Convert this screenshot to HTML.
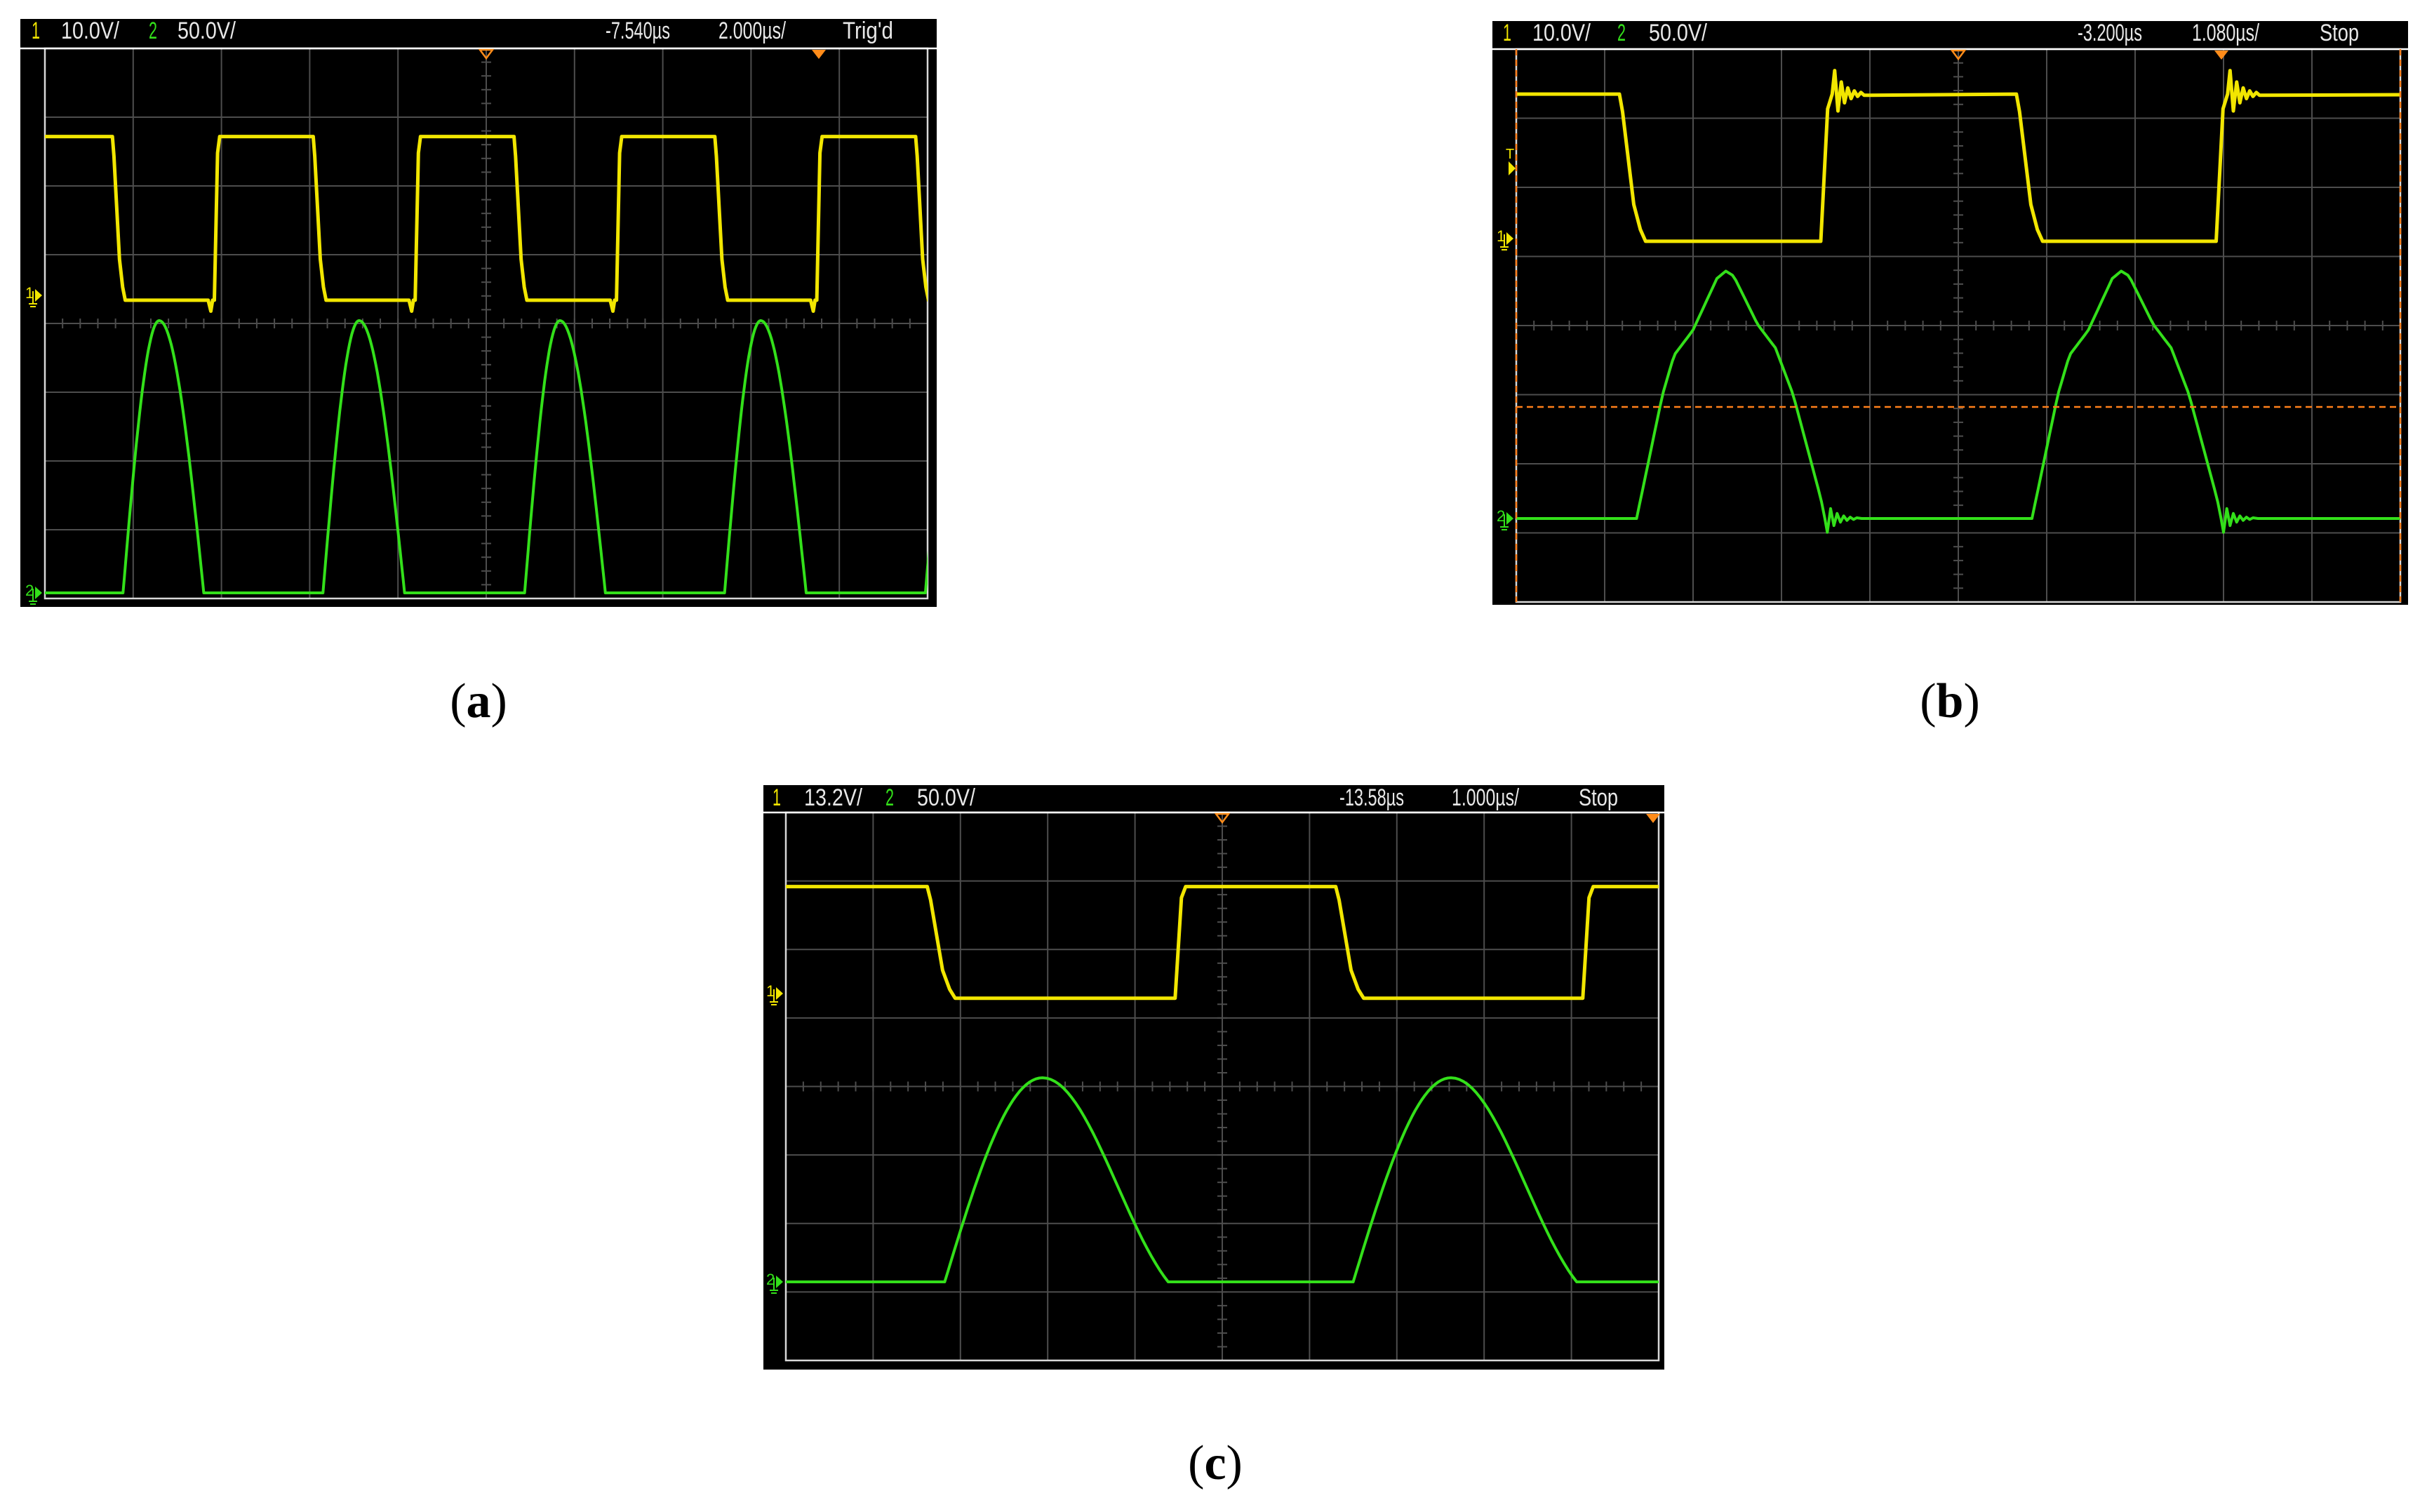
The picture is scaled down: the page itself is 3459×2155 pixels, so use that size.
<!DOCTYPE html>
<html><head><meta charset="utf-8"><style>
html,body{margin:0;padding:0;background:#fff;}
svg{display:block;}
.hdr{font-family:"Liberation Sans",sans-serif;font-size:34px;fill:#e8e8e8;}
.lbl{font-family:"Liberation Serif",serif;font-size:70px;fill:#000;}
</style></head><body>
<svg id="fig" width="3459" height="2155" viewBox="0 0 3459 2155" xmlns="http://www.w3.org/2000/svg">
<rect width="3459" height="2155" fill="#fff"/>
</svg>
<script>
// ---------- Panel (a) data (time µs, volts) ----------
const aFallTimes=[1.53,6.08,10.63,15.18,19.73];
const aRiseTimes=[3.84,8.39,12.95,17.49];
const aLevels=[23.1,-0.7];
const aPulseStart=[1.77,6.30,10.87,15.40,19.95];
const aPulsePeak=[2.59,7.12,11.67,16.22,20.77];
const aPulseEnd=[3.60,8.15,12.70,17.25,21.8];
const aPeakV=[198,198,198,198,198];
// ---------- Panel (b) data ----------
const bFallTimes=[1.26,6.11];
const bRiseTimes=[3.72,8.55];
const bLevels=[20.9,-0.4];
const bPulseStart=[1.47,6.30];
const bPulsePeak=[2.56,7.39];
const bPulseEnd=[3.77,8.61];
const bPeakV=[179,179];
// ---------- Panel (c) data ----------
const cFallTimes=[1.62,6.30];
const cRiseTimes=[4.46,9.13];
const cLevels=[20.6,-0.9];
const cPulseStart=[1.82,6.50];
const cPulsePeak=[2.94,7.62];
const cPulseEnd=[4.38,9.06];
const cPeakV=[149,149];

const NS='http://www.w3.org/2000/svg';
const fig=document.getElementById('fig');
function mk(tag,attrs,parent){const e=document.createElementNS(NS,tag);for(const k in attrs)e.setAttribute(k,attrs[k]);(parent||fig).appendChild(e);return e;}
function interp(prof,u){for(let i=1;i<prof.length;i++){if(u<=prof[i][0]){const a=prof[i-1],b=prof[i];const f=(u-a[0])/(b[0]-a[0]||1);return a[1]+(b[1]-a[1])*f;}}return prof[prof.length-1][1];}

function panel(c){
  const g=mk('g',{});
  
  
  const bg=mk('rect',{x:c.box[0],y:c.box[1],width:c.box[2]-c.box[0],height:c.box[3]-c.box[1],fill:'#000'},g);
  
  
  const [gx0,gy0,gx1,gy1]=c.grid;
  const dx=(gx1-gx0)/10, dy=(gy1-gy0)/8;
  const X=t=>gx0+t/c.tdiv*dx;
  const Y1=v=>c.gnd1-v/c.vdiv1*dy;
  const Y2=v=>c.gnd2-v/c.vdiv2*dy;
  const grid=mk('g',{stroke:'#4d4d4d','stroke-width':2},g);
  
  
  for(let i=1;i<10;i++)mk('line',{x1:gx0+i*dx,y1:gy0,x2:gx0+i*dx,y2:gy1},grid);
  for(let j=1;j<8;j++)mk('line',{x1:gx0,y1:gy0+j*dy,x2:gx1,y2:gy0+j*dy},grid);
  const cx=gx0+5*dx, cy=gy0+4*dy;
  for(let i=1;i<50;i++){const x=gx0+i*dx/5;mk('line',{x1:x,y1:cy-7,x2:x,y2:cy+7},grid);}
  for(let j=1;j<40;j++){const y=gy0+j*dy/5;mk('line',{x1:cx-7,y1:y,x2:cx+7,y2:y},grid);}
  const frame=mk('rect',{x:gx0,y:gy0,width:gx1-gx0,height:gy1-gy0,fill:'none',stroke:'#d8d8d8','stroke-width':2.5},g);
  
  
  const hl=mk('line',{x1:c.box[0],y1:gy0,x2:c.box[2],y2:gy0,stroke:'#fff','stroke-width':2.5},g);
  
  
  c.hdr.forEach(h=>{
    const t=mk('text',{x:h[0],y:c.hy+12,class:'hdr',textLength:h[2],lengthAdjust:'spacingAndGlyphs'},g);
    t.textContent=h[1];
    if(h[3])t.setAttribute('style','fill:'+h[3]);
    
    
  });
  const tr1=mk('path',{d:`M${cx-9} ${gy0+2} L${cx+9} ${gy0+2} L${cx} ${gy0+14} Z`,fill:'none',stroke:'#ff8c1a','stroke-width':2.5},g);
  
  
  const tr2=mk('path',{d:`M${c.trig2-10} ${gy0+2} L${c.trig2+10} ${gy0+2} L${c.trig2} ${gy0+15} Z`,fill:'#ff8c1a'},g);
  
  
  const cp=mk('clipPath',{id:'clip-'+c.id},g);
  mk('rect',{x:gx0,y:gy0,width:gx1-gx0,height:gy1-gy0},cp);
  const tEnd=10*c.tdiv+2;
  const [H,L]=c.levels;
  const ev=[];c.falls.forEach(t=>ev.push([t,'f']));c.rises.forEach(t=>ev.push([t,'r']));ev.sort((a,b)=>a[0]-b[0]);
  let lvl=ev.length&&ev[0][1]==='f'?H:L;
  const p1=[[0,lvl]];
  ev.forEach(e=>{
    const t0=e[0];
    if(e[1]==='f'){
      p1.push([t0,H]);
      c.fallProf.forEach(q=>p1.push([t0+q[0]*c.fallDur,L+(H-L)*q[1]]));
      lvl=L;
    }else{
      if(c.notch){p1.push([t0-0.14,L],[t0-0.08,L-1.6],[t0-0.04,L]);}
      p1.push([t0,L]);
      c.riseProf.forEach(q=>p1.push([t0+q[0]*c.riseDur,L+(H-L)*q[1]]));
      if(c.ring){for(let k=0;k<10;k++){p1.push([t0+c.riseDur+0.03+k*0.04,H+c.ring*(k%2?-1:1)*Math.exp(-k/3)]);}}
      lvl=H;
    }
  });
  p1.push([tEnd,lvl]);
  const y1=mk('path',{d:'M'+p1.map(p=>X(p[0]).toFixed(1)+' '+Y1(p[1]).toFixed(1)).join(' L'),fill:'none',stroke:'#f2e600','stroke-width':c.w1,'stroke-linejoin':'round','clip-path':`url(#clip-${c.id})`},g);
  
  
  const p2=[[0,0]];
  c.ps.forEach((s,i)=>{
    const pk=c.pp[i],en=c.pe[i],P=c.pv[i];
    p2.push([s,0]);
    for(let k=1;k<=30;k++){const u=k/30;p2.push([s+(pk-s)*u,P*c.riseFn(u)]);}
    for(let k=1;k<=30;k++){const u=k/30;p2.push([pk+(en-pk)*u,P*c.fallFn(u)]);}
    if(c.ring2){for(let k=0;k<10;k++){p2.push([en+0.03+k*0.04,c.ring2*(k%2?1:-1)*Math.exp(-k/3)]);}}
    p2.push([en+0.45,0]);
  });
  p2.push([tEnd,0]);
  const y2=mk('path',{d:'M'+p2.map(p=>X(p[0]).toFixed(1)+' '+Y2(p[1]).toFixed(1)).join(' L'),fill:'none',stroke:'#33e01a','stroke-width':c.w2,'stroke-linejoin':'round','clip-path':`url(#clip-${c.id})`},g);
  
  
  [[c.gnd1,'1','#f2e600','channel-1-ground-marker'],[c.gnd2,'2','#33e01a','channel-2-ground-marker']].forEach(m=>{
    const mg=mk('g',{fill:m[2],stroke:m[2]},g);
    
    
    const x=gx0-26;
    const tt=mk('text',{x:x-2,y:m[0]+4,'font-family':'Liberation Sans, sans-serif','font-size':22,stroke:'none'},mg);tt.textContent=m[1];
    mk('path',{d:`M${x+12} ${m[0]-9} L${x+22} ${m[0]} L${x+12} ${m[0]+9} Z`,stroke:'none'},mg);
    mk('line',{x1:x+9,y1:m[0]-6,x2:x+9,y2:m[0]+12,'stroke-width':2},mg);
    mk('line',{x1:x+3,y1:m[0]+12,x2:x+15,y2:m[0]+12,'stroke-width':2},mg);
    mk('line',{x1:x+5,y1:m[0]+16,x2:x+13,y2:m[0]+16,'stroke-width':2},mg);
  });
  const lb=mk('text',{x:c.lx,y:c.ly,class:'lbl','text-anchor':'middle'},fig);
  
  
  lb.innerHTML='(<tspan font-weight="bold">'+c.id+'</tspan>)';
  return {g,X,Y1,Y2,gx0,gy0,gx1,gy1};
}
const sineRise=u=>Math.sin(Math.PI*u/2);
const sineFall=u=>Math.cos(Math.PI*u/2);
const smoothFall=u=>0.5*Math.cos(Math.PI*u/2)+0.25*(1+Math.cos(Math.PI*u));
const bRiseProf=[[0,0],[0.29,0.5],[0.42,0.66],[0.63,0.76],[0.9,0.97],[1,1]];
const bFallProf=[[0,1],[0.08,0.98],[0.32,0.785],[0.5,0.69],[0.68,0.5],[0.96,0.08],[1,0]];
const fallP=[[0,1],[0.12,0.88],[0.55,0.25],[0.8,0.08],[1,0]];
const riseP=[[0.6,0.9],[1,1]];

panel({id:'a',name:'panel-a-scope',box:[29,27,1335,865],grid:[64,69,1322,853],hy:43,tdiv:2,
  gnd1:421,vdiv1:10,gnd2:845,vdiv2:50,levels:aLevels,falls:aFallTimes,rises:aRiseTimes,
  fallDur:0.29,riseDur:0.12,fallProf:fallP,riseProf:riseP,notch:true,ring:0,
  ps:aPulseStart,pp:aPulsePeak,pe:aPulseEnd,pv:aPeakV,riseFn:sineRise,fallFn:sineFall,ring2:0,
  w1:5,w2:4,trig2:1167,lx:682,ly:1022,
  hdr:[[45,'1',12,'#f2e600','ch1-label'],[87,'10.0V/',83,null,'ch1-scale'],[212,'2',12,'#33e01a','ch2-label'],[253,'50.0V/',83,null,'ch2-scale'],[863,'-7.540µs',92,null,'time-delay'],[1024,'2.000µs/',96,null,'time-scale'],[1201,"Trig'd",72,null,'trigger-status']]});

panel({id:'b',name:'panel-b-scope',box:[2127,30,3432,862],grid:[2161,70,3421,858],hy:46,tdiv:1.08,
  gnd1:340,vdiv1:10,gnd2:739,vdiv2:50,levels:bLevels,falls:bFallTimes,rises:bRiseTimes,
  fallDur:0.32,riseDur:0.14,fallProf:fallP,riseProf:riseP,notch:false,ring:3.4,
  ps:bPulseStart,pp:bPulsePeak,pe:bPulseEnd,pv:bPeakV,riseFn:u=>interp(bRiseProf,u),fallFn:u=>interp(bFallProf,u),ring2:10,
  w1:5,w2:4,trig2:3166,lx:2779,ly:1022,
  hdr:[[2142,'1',12,'#f2e600','ch1-label'],[2184,'10.0V/',83,null,'ch1-scale'],[2305,'2',12,'#33e01a','ch2-label'],[2350,'50.0V/',83,null,'ch2-scale'],[2961,'-3.200µs',92,null,'time-delay'],[3124,'1.080µs/',96,null,'time-scale'],[3306,'Stop',56,null,'run-status']]});
[[2161,70,2161,858],[3421,70,3421,858],[2161,580,3421,580]].forEach((l,i)=>{
  const e=mk('line',{x1:l[0],y1:l[1],x2:l[2],y2:l[3],stroke:'#ff7f1a','stroke-width':2.5,'stroke-dasharray':'9 6'});
  
  
});
const tm=mk('g',{fill:'#f2e600'});


mk('path',{d:'M2150 230 L2160 240 L2150 250 Z'},tm);
const tt=mk('text',{x:2146,y:226,'font-family':'Liberation Sans, sans-serif','font-size':20},tm);tt.textContent='T';

panel({id:'c',name:'panel-c-scope',box:[1088,1119,2372,1952],grid:[1120,1158,2364,1939],hy:1136,tdiv:1,
  gnd1:1416,vdiv1:13.2,gnd2:1827,vdiv2:50,levels:cLevels,falls:cFallTimes,rises:cRiseTimes,
  fallDur:0.32,riseDur:0.12,fallProf:fallP,riseProf:riseP,notch:false,ring:0,
  ps:cPulseStart,pp:cPulsePeak,pe:cPulseEnd,pv:cPeakV,riseFn:sineRise,fallFn:smoothFall,ring2:0,
  w1:5,w2:4,trig2:2356,lx:1732,ly:2108,
  hdr:[[1101,'1',12,'#f2e600','ch1-label'],[1146,'13.2V/',83,null,'ch1-scale'],[1262,'2',12,'#33e01a','ch2-label'],[1307,'50.0V/',83,null,'ch2-scale'],[1909,'-13.58µs',92,null,'time-delay'],[2069,'1.000µs/',96,null,'time-scale'],[2250,'Stop',56,null,'run-status']]});
</script>
</body></html>
